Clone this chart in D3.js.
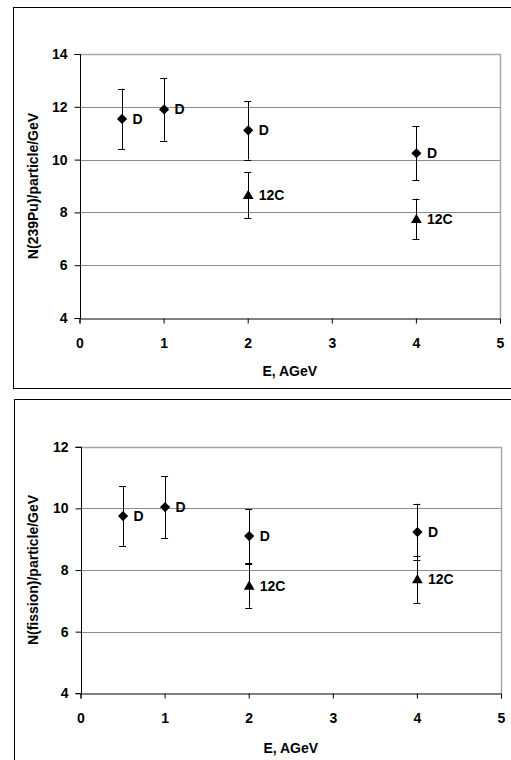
<!DOCTYPE html>
<html>
<head>
<meta charset="utf-8">
<script src="https://cdn.jsdelivr.net/npm/d3@7"></script>
<style>
  body { margin: 0; background: #fff; }
  text { font-family: "Liberation Sans", Arial, sans-serif; font-weight: bold; fill: #000; }
</style>
</head>
<body>
<script>
  // x ticks and energies (AGeV)
  const xTicks = [0, 1, 2, 3, 4, 5];
  const energyD = [0.5, 1, 2, 4];
  const energyC = [2, 4];

  // N(239Pu)/particle/GeV
  const puTicks = [4, 6, 8, 10, 12, 14];
  const puD = [11.54, 11.90, 11.11, 10.24];
  const puDErr = [1.15, 1.19, 1.11, 1.03];
  const puC = [8.66, 7.75];
  const puCErr = [0.87, 0.77];

  // N(fission)/particle/GeV
  const fisTicks = [4, 6, 8, 10, 12];
  const fisD = [9.75, 10.04, 9.10, 9.23];
  const fisDErr = [0.97, 1.01, 0.88, 0.92];
  const fisC = [7.49, 7.70];
  const fisCErr = [0.71, 0.77];

  const W = 511, H = 760;
  const FONT = 14;

  const svg = d3.select("body")
    .append("svg")
    .attr("width", W)
    .attr("height", H);

  // outer frames
  svg.append("rect")
    .attr("x", 13.5).attr("y", 7.5)
    .attr("width", 520).attr("height", 381)
    .attr("fill", "none").attr("stroke", "#000").attr("stroke-width", 1);
  svg.append("rect")
    .attr("x", 14.5).attr("y", 399.5)
    .attr("width", 520).attr("height", 400)
    .attr("fill", "none").attr("stroke", "#000").attr("stroke-width", 1);

  function drawChart(opt) {
    const { left, right, top, bottom, yTicks, yLabel, dVals, dErr, cVals, cErr, xTitleY, yTitleX } = opt;

    const x = d3.scaleLinear().domain([0, 5]).range([left, right]);
    const y = d3.scaleLinear().domain([d3.min(yTicks), d3.max(yTicks)]).range([bottom, top]);

    const g = svg.append("g");

    // gridlines
    g.append("g")
      .selectAll("line")
      .data(yTicks.slice(1, -1))
      .enter()
      .append("line")
      .attr("x1", left).attr("x2", right)
      .attr("y1", d => Math.round(y(d)) + 0.5)
      .attr("y2", d => Math.round(y(d)) + 0.5)
      .attr("stroke", "#8c8c8c");

    // plot border top/right
    g.append("path")
      .attr("d", `M${left},${Math.round(top) + 0.5}H${Math.round(right) + 0.5}V${bottom}`)
      .attr("fill", "none")
      .attr("stroke", "#a6a6a6")
      .attr("stroke-width", 1.5);

    // axes
    const xAxis = d3.axisBottom(x)
      .tickValues(xTicks)
      .tickSize(5)
      .tickPadding(15)
      .tickFormat(d3.format("d"));
    const yAxis = d3.axisLeft(y)
      .tickValues(yTicks)
      .tickSize(6)
      .tickPadding(7)
      .tickFormat(d3.format("d"));

    const gx = g.append("g")
      .attr("transform", `translate(0,${Math.round(bottom) + 0.5})`)
      .call(xAxis);
    const gy = g.append("g")
      .attr("transform", `translate(${Math.round(left) + 0.5},0)`)
      .call(yAxis);

    [gx, gy].forEach(a => {
      a.select(".domain").attr("stroke", "#000");
      a.selectAll(".tick line").attr("stroke", "#000");
      a.selectAll(".tick text")
        .attr("font-size", FONT)
        .attr("font-family", "'Liberation Sans', Arial, sans-serif")
        .attr("font-weight", "bold")
        .attr("fill", "#000");
    });
    gy.select(".domain").attr("d", `M-6,${Math.round(top) + 0.5}H0V${Math.round(bottom) + 0.5}H-6`);

    // axis titles
    g.append("text")
      .attr("x", (left + right) / 2)
      .attr("y", xTitleY)
      .attr("text-anchor", "middle")
      .attr("font-size", FONT)
      .text("E, AGeV");
    g.append("text")
      .attr("transform", `translate(${yTitleX},${(top + bottom) / 2}) rotate(-90)`)
      .attr("text-anchor", "middle")
      .attr("font-size", FONT)
      .text(yLabel);

    const series = [
      { xs: energyD, ys: dVals, errs: dErr, symbol: "diamond", label: "D" },
      { xs: energyC, ys: cVals, errs: cErr, symbol: "triangle", label: "12C" }
    ];

    series.forEach(s => {
      const pts = s.xs.map((e, i) => ({ e, v: s.ys[i], err: s.errs[i] }));
      const sg = g.append("g");

      // error bars
      const eb = sg.selectAll(".err").data(pts).enter().append("g");
      eb.append("line")
        .attr("x1", d => Math.round(x(d.e)) + 0.5).attr("x2", d => Math.round(x(d.e)) + 0.5)
        .attr("y1", d => y(d.v + d.err)).attr("y2", d => y(d.v - d.err))
        .attr("stroke", "#000");
      eb.selectAll(".cap")
        .data(d => [d.v + d.err, d.v - d.err].map(v => ({ e: d.e, v })))
        .enter().append("line")
        .attr("x1", d => x(d.e) - 3.5).attr("x2", d => x(d.e) + 3.5)
        .attr("y1", d => Math.round(y(d.v)) + 0.5).attr("y2", d => Math.round(y(d.v)) + 0.5)
        .attr("stroke", "#000");

      // markers
      const sym = s.symbol === "diamond"
        ? d3.symbol(d3.symbolSquare, 52)
        : d3.symbol(d3.symbolTriangle, 50);
      sg.selectAll(".mk").data(pts).enter().append("path")
        .attr("d", sym)
        .attr("transform", d => s.symbol === "diamond"
          ? `translate(${x(d.e) + 0.5},${y(d.v)}) rotate(45)`
          : `translate(${x(d.e) + 0.5},${y(d.v) + 1})`)
        .attr("fill", "#000");

      // labels
      sg.selectAll(".lbl").data(pts).enter().append("text")
        .attr("x", d => x(d.e) + 11)
        .attr("y", d => y(d.v))
        .attr("dy", "0.36em")
        .attr("font-size", FONT)
        .text(s.label);
    });
  }

  drawChart({
    left: 79.5, right: 500, top: 54, bottom: 318,
    yTicks: puTicks, yLabel: "N(239Pu)/particle/GeV",
    dVals: puD, dErr: puDErr, cVals: puC, cErr: puCErr,
    xTitleY: 376, yTitleX: 38
  });

  drawChart({
    left: 80.5, right: 501, top: 446.7, bottom: 693.3,
    yTicks: fisTicks, yLabel: "N(fission)/particle/GeV",
    dVals: fisD, dErr: fisDErr, cVals: fisC, cErr: fisCErr,
    xTitleY: 753, yTitleX: 38
  });
</script>
</body>
</html>
